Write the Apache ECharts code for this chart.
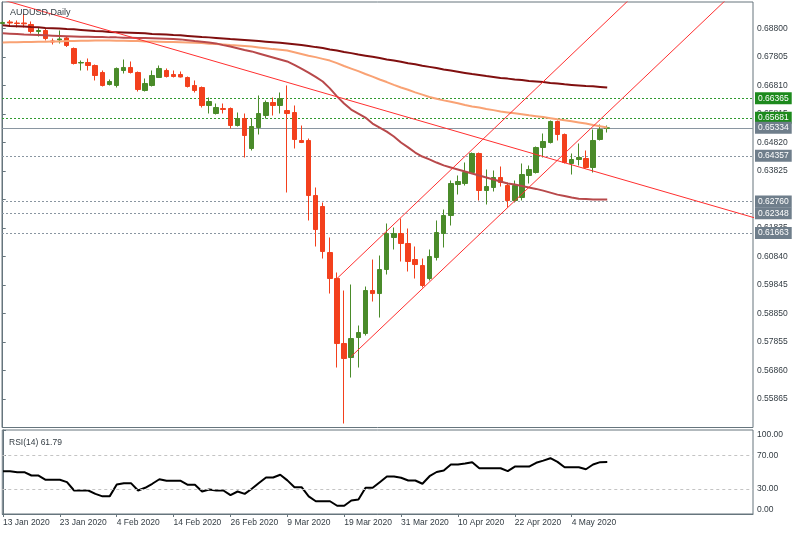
<!DOCTYPE html>
<html><head><meta charset="utf-8">
<script src="https://cdn.jsdelivr.net/npm/echarts@6/dist/echarts.min.js"></script>
<style>html,body{margin:0;padding:0;background:#fff}#c{width:800px;height:533px}</style>
</head><body><div id="c"></div>
<script>
// ---------- DATA ----------
const dates = [
'13 Jan 2020','14 Jan 2020','15 Jan 2020','16 Jan 2020','17 Jan 2020','20 Jan 2020','21 Jan 2020','22 Jan 2020','23 Jan 2020','24 Jan 2020',
'27 Jan 2020','28 Jan 2020','29 Jan 2020','30 Jan 2020','31 Jan 2020','3 Feb 2020','4 Feb 2020','5 Feb 2020','6 Feb 2020','7 Feb 2020',
'10 Feb 2020','11 Feb 2020','12 Feb 2020','13 Feb 2020','14 Feb 2020','17 Feb 2020','18 Feb 2020','19 Feb 2020','20 Feb 2020','21 Feb 2020',
'24 Feb 2020','25 Feb 2020','26 Feb 2020','27 Feb 2020','28 Feb 2020','2 Mar 2020','3 Mar 2020','4 Mar 2020','5 Mar 2020','6 Mar 2020',
'9 Mar 2020','10 Mar 2020','11 Mar 2020','12 Mar 2020','13 Mar 2020','16 Mar 2020','17 Mar 2020','18 Mar 2020','19 Mar 2020','20 Mar 2020',
'23 Mar 2020','24 Mar 2020','25 Mar 2020','26 Mar 2020','27 Mar 2020','30 Mar 2020','31 Mar 2020','1 Apr 2020','2 Apr 2020','3 Apr 2020',
'6 Apr 2020','7 Apr 2020','8 Apr 2020','9 Apr 2020','10 Apr 2020','13 Apr 2020','14 Apr 2020','15 Apr 2020','16 Apr 2020','17 Apr 2020',
'20 Apr 2020','21 Apr 2020','22 Apr 2020','23 Apr 2020','24 Apr 2020','27 Apr 2020','28 Apr 2020','29 Apr 2020','30 Apr 2020','1 May 2020',
'4 May 2020','5 May 2020','6 May 2020','7 May 2020','8 May 2020','11 May 2020'];

const open = [0.68975,0.69027,0.68992,0.68992,0.68940,0.68696,0.68730,0.68364,0.68399,0.68469,
0.68102,0.67596,0.67613,0.67508,0.67264,0.66845,0.66810,0.67334,0.67439,0.67264,
0.66635,0.66810,0.67089,0.67334,0.67194,0.67194,0.67089,0.66810,0.66740,0.66112,
0.65832,0.66007,0.66007,0.65413,0.65657,0.64610,0.65343,0.65762,0.66216,0.66112,
0.65937,0.65867,0.64890,0.64890,0.62969,0.62585,0.60979,0.60071,0.57802,0.57313,
0.58011,0.58151,0.59652,0.59547,0.60386,0.61503,0.61643,0.61294,0.60734,0.60525,
0.60071,0.60804,0.61643,0.62271,0.63353,0.63388,0.63772,0.64436,0.63144,0.63249,
0.63598,0.63318,0.62795,0.62899,0.63668,0.63772,0.64645,0.64820,0.65553,0.65099,
0.64087,0.64226,0.64261,0.63947,0.64925,0.65308];
const close = [0.69010,0.68992,0.68975,0.68964,0.68696,0.68730,0.68451,0.68329,0.68434,0.68207,
0.67578,0.67613,0.67508,0.67159,0.66810,0.66950,0.67404,0.67439,0.67264,0.66670,
0.66880,0.67159,0.67404,0.67124,0.67124,0.67107,0.66775,0.66635,0.66112,0.66251,
0.66042,0.65972,0.65413,0.65657,0.65064,0.65378,0.65832,0.66216,0.66112,0.66356,
0.65832,0.64925,0.64820,0.62969,0.61782,0.61014,0.60071,0.57802,0.57278,0.57976,
0.58186,0.59652,0.59547,0.60386,0.61643,0.61643,0.61294,0.60665,0.60560,0.59827,
0.60839,0.61677,0.62271,0.63388,0.63458,0.63772,0.64436,0.63144,0.63283,0.63598,
0.63423,0.62795,0.63318,0.63702,0.63877,0.64645,0.64855,0.65553,0.65099,0.64122,
0.64226,0.64296,0.63947,0.64890,0.65273,0.65334];
const low = [0.68940,0.68905,0.68835,0.68835,0.68626,0.68521,0.68381,0.68242,0.68277,0.68154,
0.67543,0.67334,0.67334,0.66985,0.66775,0.66810,0.66740,0.67229,0.67229,0.66600,
0.66600,0.66775,0.67072,0.67089,0.67089,0.67089,0.66740,0.66566,0.66042,0.65832,
0.65797,0.65832,0.65308,0.65378,0.64296,0.64540,0.65099,0.65657,0.65762,0.65832,
0.63074,0.64610,0.64800,0.62097,0.61189,0.60769,0.59547,0.56964,0.55009,0.56615,
0.56964,0.58081,0.59268,0.58709,0.60211,0.61084,0.60665,0.60316,0.60071,0.59757,
0.60001,0.60700,0.61154,0.61922,0.63004,0.63318,0.63737,0.62795,0.62655,0.63109,
0.63283,0.62550,0.62725,0.62795,0.63388,0.63737,0.64296,0.64785,0.64890,0.64087,
0.63702,0.64017,0.63912,0.63772,0.64890,0.65169];
const high = [0.69045,0.69097,0.69080,0.69324,0.69045,0.68835,0.68800,0.68451,0.68730,0.68521,
0.68137,0.67683,0.67753,0.67543,0.67334,0.67020,0.67439,0.67718,0.67648,0.67299,
0.67054,0.67334,0.67508,0.67404,0.67334,0.67299,0.67124,0.66985,0.66775,0.66391,
0.66181,0.66181,0.66042,0.65867,0.65832,0.65657,0.66461,0.66286,0.66391,0.66566,
0.66810,0.66112,0.65413,0.64959,0.63249,0.62725,0.61503,0.60281,0.59652,0.59862,
0.58430,0.59792,0.60734,0.60874,0.61992,0.61852,0.62166,0.61817,0.61189,0.60769,
0.61084,0.62097,0.62480,0.63493,0.63668,0.64122,0.64470,0.64470,0.63877,0.63842,
0.63982,0.63423,0.63493,0.64087,0.64017,0.64680,0.65134,0.65588,0.65588,0.65134,
0.64436,0.64785,0.64540,0.65273,0.65448,0.65413];

const ma200 = [0.6891,0.6889,0.6888,0.6887,0.6885,0.6884,0.6882,0.6881,0.6880,0.6878,
0.6877,0.6875,0.6873,0.6871,0.6870,0.6868,0.6867,0.6866,0.6865,0.6864,
0.6863,0.6861,0.6860,0.6859,0.6857,0.6856,0.6854,0.6852,0.6850,0.6849,
0.6847,0.6845,0.6843,0.6842,0.6840,0.6838,0.6836,0.6834,0.6832,0.6830,
0.6828,0.6825,0.6822,0.6819,0.6815,0.6812,0.6807,0.6803,0.6798,0.6794,
0.6789,0.6785,0.6781,0.6777,0.6772,0.6768,0.6764,0.6759,0.6755,0.6750,
0.6746,0.6742,0.6737,0.6733,0.6729,0.6725,0.6721,0.6718,0.6714,0.6711,
0.6707,0.6705,0.6702,0.6700,0.6697,0.6695,0.6693,0.6690,0.6688,0.6685,
0.6683,0.6681,0.6679,0.6678,0.6676,0.6674];
const ma100 = [0.6831,0.6832,0.6832,0.6833,0.6833,0.6834,0.6834,0.6835,0.6835,0.6836,
0.6836,0.6837,0.6837,0.6838,0.6838,0.6838,0.6837,0.6837,0.6836,0.6836,
0.6835,0.6835,0.6834,0.6833,0.6833,0.6832,0.6831,0.6830,0.6829,0.6827,
0.6826,0.6824,0.6822,0.6821,0.6819,0.6817,0.6814,0.6811,0.6808,0.6806,
0.6803,0.6797,0.6791,0.6785,0.6780,0.6774,0.6768,0.6759,0.6749,0.6740,
0.6731,0.6721,0.6712,0.6702,0.6693,0.6683,0.6674,0.6666,0.6657,0.6649,
0.6641,0.6635,0.6629,0.6624,0.6619,0.6613,0.6608,0.6604,0.6599,0.6595,
0.6590,0.6587,0.6584,0.6581,0.6577,0.6574,0.6571,0.6567,0.6563,0.6560,
0.6556,0.6552,0.6548,0.6543,0.6539,0.6534];
const ma50 = [0.6863,0.6862,0.6861,0.6859,0.6858,0.6857,0.6856,0.6855,0.6854,0.6853,
0.6852,0.6851,0.6851,0.6850,0.6850,0.6849,0.6849,0.6848,0.6848,0.6847,
0.6847,0.6846,0.6845,0.6844,0.6843,0.6842,0.6839,0.6836,0.6834,0.6831,
0.6828,0.6822,0.6817,0.6811,0.6805,0.6800,0.6793,0.6786,0.6779,0.6772,
0.6765,0.6753,0.6740,0.6726,0.6711,0.6695,0.6671,0.6643,0.6618,0.6597,
0.6583,0.6569,0.6548,0.6534,0.6520,0.6503,0.6482,0.6465,0.6447,0.6433,
0.6423,0.6412,0.6402,0.6395,0.6388,0.6381,0.6374,0.6367,0.6360,0.6353,
0.6346,0.6339,0.6335,0.6330,0.6325,0.6320,0.6314,0.6307,0.6300,0.6295,
0.6290,0.6286,0.6285,0.6283,0.6283,0.6283];

const rsi = [51.0,51.0,49.8,49.8,45.8,45.8,40.7,40.7,40.7,38.0,
28.0,28.0,28.0,24.0,21.0,21.0,35.0,36.7,36.7,28.0,
31.2,36.0,41.4,39.5,39.5,39.5,34.8,34.8,26.8,29.2,
28.0,28.0,22.4,26.8,24.0,30.0,37.0,43.5,43.5,46.7,
40.0,31.9,31.9,21.0,15.2,15.2,15.2,9.8,9.8,16.1,
17.3,31.2,31.2,37.9,44.6,44.6,43.1,39.9,39.9,36.0,
45.0,50.0,51.8,58.9,58.9,60.0,61.7,54.5,54.5,54.5,
54.5,51.0,56.5,56.5,56.5,61.0,63.5,66.4,62.0,55.7,
55.7,55.7,53.3,58.9,61.7,61.79];

// trendline anchor points [bar index, price]
const trendDown = [[0, 0.6980], [106, 0.6217]];
const channelUpper = [[47, 0.6007], [90, 0.7026]];
const channelLower = [[49, 0.5735], [105, 0.7058]];

// horizontal levels
const resistanceLevels = [0.66365, 0.65681];
const supportLevels = [0.64357, 0.62760, 0.62348, 0.61663];
const lastPrice = 0.65334;

// tick labels
const xTickLabels = ['13 Jan 2020','23 Jan 2020','4 Feb 2020','14 Feb 2020','26 Feb 2020','9 Mar 2020','19 Mar 2020','31 Mar 2020','10 Apr 2020','22 Apr 2020','4 May 2020'];
const yTickValues = [0.55865,0.56860,0.57855,0.58850,0.59845,0.60840,0.61835,0.62830,0.63825,0.64820,0.65815,0.66810,0.67805,0.68800];
const rsiTickValues = [0, 30, 70, 100];

// ---------- CHART ----------
const FONT = 'Liberation Sans';
const TXT = '#333c43';
const FRAME = '#66757d';
const GREEN = '#4a8b2a';
const RED = '#f3401d';
const X_MIN = -0.1, X_MAX = 105.5;

const idx = dates.map((d, i) => i);
const candleData = idx.map(i => [i, open[i], close[i], low[i], high[i]]);
const labelIdx = xTickLabels.map(l => dates.indexOf(l));

function tag(v, bg, lineColor, type) {
  return {
    yAxis: v,
    lineStyle: { color: lineColor, type: type, width: 1 },
    label: {
      show: true, position: 'end', distance: 2,
      formatter: () => v.toFixed(5),
      color: '#fff', backgroundColor: bg, padding: [2, 3, 1, 3],
      fontFamily: FONT, fontSize: 8.5
    }
  };
}

const levelMarks = [
  ...resistanceLevels.map(v => tag(v, '#1d8a1d', '#2f9a2f', [2, 2])),
  tag(lastPrice, '#6f7e8b', '#8a96a1', 'solid'),
  ...supportLevels.map(v => tag(v, '#6f7e8b', '#8a96a1', [2, 2]))
];

const chart = echarts.init(document.getElementById('c'), null, { renderer: 'canvas' });
chart.setOption({
  animation: false,
  backgroundColor: '#ffffff',
  title: [
    { text: 'AUDUSD,Daily', left: 5, top: 3, textStyle: { fontFamily: FONT, fontSize: 9, fontWeight: 'normal', color: TXT } },
    { text: 'RSI(14) ' + rsi[rsi.length - 1].toFixed(2), left: 4, top: 433, textStyle: { fontFamily: FONT, fontSize: 8.5, fontWeight: 'normal', color: TXT } }
  ],
  grid: [
    { left: 2, top: 2, width: 751, height: 425.5, show: true, borderColor: FRAME, borderWidth: 1 },
    { left: 2, top: 430, width: 751, height: 84, show: true, borderColor: FRAME, borderWidth: 1 }
  ],
  xAxis: [
    { type: 'value', gridIndex: 0, min: X_MIN, max: X_MAX, show: false },
    { type: 'value', gridIndex: 1, min: X_MIN, max: X_MAX,
      axisLine: { show: true, lineStyle: { color: FRAME } },
      splitLine: { show: false },
      axisTick: { show: true, customValues: labelIdx, length: 3, lineStyle: { color: FRAME } },
      axisLabel: { customValues: labelIdx, formatter: v => dates[Math.round(v)], align: 'left', margin: 4,
        fontFamily: FONT, fontSize: 8.5, color: TXT } }
  ],
  yAxis: [
    { type: 'value', gridIndex: 0, position: 'right', min: 0.5487, max: 0.69725, scale: true,
      axisLine: { show: true, lineStyle: { color: FRAME } },
      splitLine: { show: false },
      axisTick: { show: true, customValues: yTickValues, length: 3, lineStyle: { color: FRAME } },
      axisLabel: { customValues: yTickValues, formatter: v => v.toFixed(5), margin: 4,
        fontFamily: FONT, fontSize: 8.5, color: TXT } },
    { type: 'value', gridIndex: 1, position: 'right', min: 0, max: 100,
      axisLine: { show: true, lineStyle: { color: FRAME } },
      splitLine: { show: false },
      axisTick: { show: true, customValues: rsiTickValues, length: 3, lineStyle: { color: FRAME } },
      axisLabel: { customValues: rsiTickValues, formatter: v => v.toFixed(2), margin: 4,
        verticalAlignMinLabel: 'bottom', verticalAlignMaxLabel: 'top',
        fontFamily: FONT, fontSize: 8.5, color: TXT } }
  ],
  series: [
    { type: 'candlestick', xAxisIndex: 0, yAxisIndex: 0, data: candleData, barWidth: 5, z: 3,
      itemStyle: { color: GREEN, color0: RED, borderColor: GREEN, borderColor0: RED, borderWidth: 1 },
      markLine: { silent: true, symbol: ['none', 'none'], precision: 5, z: 1, data: levelMarks, animation: false } },
    { type: 'line', xAxisIndex: 0, yAxisIndex: 0, data: idx.map(i => [i, ma200[i]]), showSymbol: false, z: 4,
      lineStyle: { color: '#800f0f', width: 2 } },
    { type: 'line', xAxisIndex: 0, yAxisIndex: 0, data: idx.map(i => [i, ma100[i]]), showSymbol: false, z: 4,
      lineStyle: { color: '#f9a274', width: 2 } },
    { type: 'line', xAxisIndex: 0, yAxisIndex: 0, data: idx.map(i => [i, ma50[i]]), showSymbol: false, z: 4,
      lineStyle: { color: '#b8494b', width: 2 } },
    { type: 'line', xAxisIndex: 0, yAxisIndex: 0, data: trendDown, showSymbol: false, clip: true, z: 5,
      lineStyle: { color: '#ff2f2f', width: 1 } },
    { type: 'line', xAxisIndex: 0, yAxisIndex: 0, data: channelUpper, showSymbol: false, clip: true, z: 5,
      lineStyle: { color: '#ff2f2f', width: 1 } },
    { type: 'line', xAxisIndex: 0, yAxisIndex: 0, data: channelLower, showSymbol: false, clip: true, z: 5,
      lineStyle: { color: '#ff2f2f', width: 1 } },
    { type: 'line', xAxisIndex: 1, yAxisIndex: 1, data: idx.map(i => [i, rsi[i]]), showSymbol: false, z: 4,
      lineStyle: { color: '#000000', width: 2 },
      markLine: { silent: true, symbol: ['none', 'none'], label: { show: false },
        lineStyle: { color: '#c4c4c4', type: [3, 3], width: 1 },
        data: [{ yAxis: 70 }, { yAxis: 30 }] } }
  ]
});
</script>
</body></html>
